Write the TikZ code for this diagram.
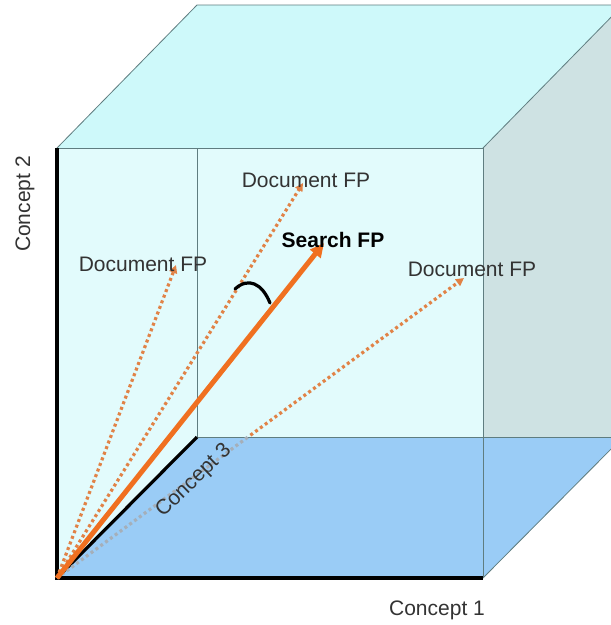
\documentclass[tikz,border=0pt]{standalone}
\usepackage{fontspec}
\setmainfont{Liberation Sans}
\usetikzlibrary{arrows.meta}
\definecolor{topface}{RGB}{206,249,250}
\definecolor{wall}{RGB}{226,251,252}
\definecolor{rightface}{RGB}{206,226,227}
\definecolor{floorc}{RGB}{154,204,246}
\definecolor{edgec}{RGB}{95,125,128}
\definecolor{orangeS}{RGB}{240,112,32}
\definecolor{orangeD}{RGB}{225,130,70}
\definecolor{greyD}{RGB}{165,175,185}
\tikzset{
  edge/.style={draw=edgec, line width=0.8pt},
  axis/.style={draw=black, line width=4pt},
  docline/.style={draw=orangeD, line width=3.2pt, dash pattern=on 3pt off 3pt, -{Triangle[length=8pt,width=8pt]}},
  hiddenline/.style={draw=greyD, line width=3.2pt, dash pattern=on 3pt off 3pt},
  searchline/.style={draw=orangeS, line width=5pt, -{Triangle[length=14pt,width=13pt]}},
  lab/.style={font=\fontsize{21}{25}\selectfont, text=black!80, inner sep=0pt},
}
\begin{document}
\begin{tikzpicture}[x=1pt,y=-1pt]
\useasboundingbox (0,0) rectangle (611,625);
\fill[white] (0,0) rectangle (611,625);
\begin{scope}
\clip (0,0) rectangle (611,625);
% interior wall
\fill[wall] (57,148) rectangle (483,578);
% right face
\fill[rightface] (483,148) -- (623,5) -- (623,437) -- (483,578) -- cycle;
% floor
\fill[floorc] (57,578) -- (483,578) -- (623,437) -- (197,437) -- cycle;
% top face
\fill[topface] (57,148) -- (197,5) -- (623,5) -- (483,148) -- cycle;
% edges
\draw[edge] (57,148) -- (197,5) -- (623,5);
\draw[edge] (483,148) -- (623,5);
\draw[edge] (57,148) -- (483,148) -- (483,578);
\draw[edge] (483,578) -- (623,437);
\draw[edge] (197,148) -- (197,437) -- (623,437);
\end{scope}
% coordinates
\coordinate (O) at (57,578);
\coordinate (Y) at (57,148);
\coordinate (X) at (483,578);
\coordinate (Z) at (197,437);
\coordinate (d1) at (176,265);
\coordinate (d2) at (303,183);
\coordinate (d3) at (464,278);
\coordinate (s) at (324,243);
\coordinate (h) at (248,437);
% axes
\draw[axis] (Y) -- (O) -- (X);
\draw[draw=black, line width=3.2pt] (O) -- (Z);
% document lines
\draw[hiddenline] (O) -- (h);
\draw[docline, shorten <=3pt] (h) -- (d3);
\draw[docline] (O) -- (d1);
\draw[docline] (O) -- (d2);
% search
\draw[searchline] (O) -- (s);
% angle
\draw[line width=3.2pt, line cap=round] (235,289) .. controls (248,277) and (262,283) .. (270,303);
% labels
\node[lab] (l1) at (143,264) {Document FP};
\node[lab] (l2) at (306,180) {Document FP};
\node[lab] (l3) at (472,269) {Document FP};
\node[lab, text=black, font=\fontsize{21}{25}\selectfont\bfseries] (ls) at (333,240) {Search FP};
\node[lab] (c1) at (437,610) {Concept 1};
\node[lab, rotate=90] (c2) at (25,204) {Concept 2};
\node[lab, rotate=44] (c3) at (194,481) {Concept 3};
\end{tikzpicture}
\end{document}
